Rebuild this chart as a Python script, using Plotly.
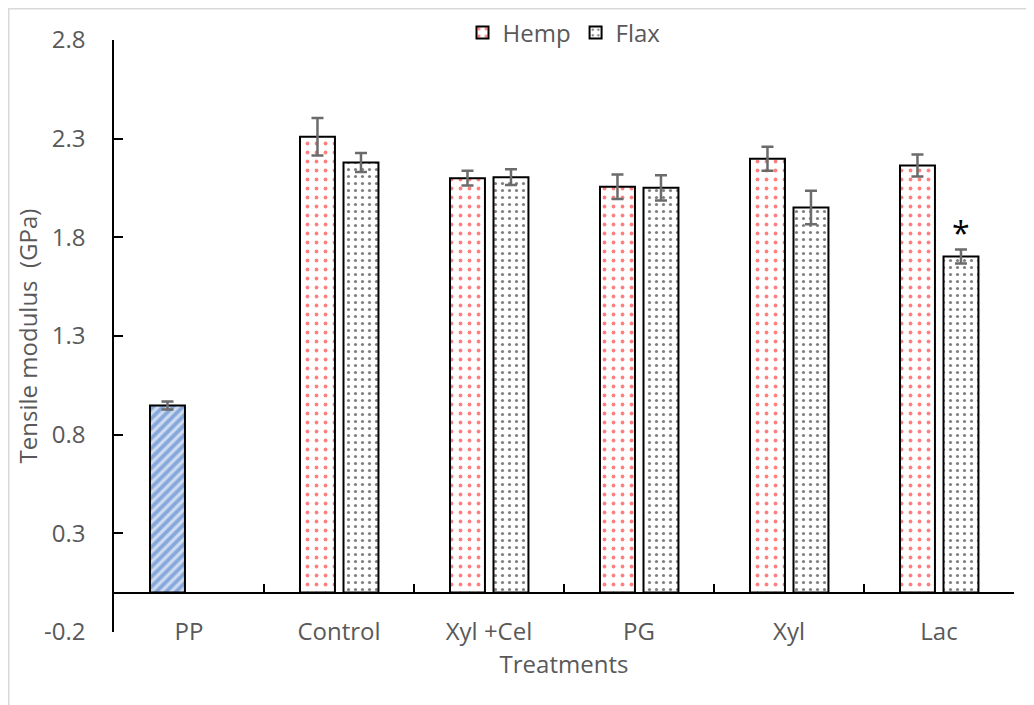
import plotly.graph_objects as go

categories = ["PP", "Control", "Xyl +Cel", "PG", "Xyl", "Lac"]
pp_value = [0.948]
pp_error = [0.02]
fiber_categories = ["Control", "Xyl +Cel", "PG", "Xyl", "Lac"]
hemp = [2.31, 2.10, 2.056, 2.198, 2.164]
hemp_error = [0.095, 0.037, 0.062, 0.061, 0.056]
flax = [2.179, 2.105, 2.051, 1.951, 1.703]
flax_error = [0.048, 0.040, 0.064, 0.085, 0.035]
y_ticks = [-0.2, 0.3, 0.8, 1.3, 1.8, 2.3, 2.8]

FONT = "Open Sans"
GRAY = "#595959"
PAGE = 8  # default body margin of the html page
W, H = 1034 - PAGE, 705 - PAGE
ML, MR, MT, MB = 114 - PAGE, 20, 40 - PAGE, 73
plot_w = W - ML - MR
plot_h = H - MT - MB
cat_px = plot_w / len(categories)

bar_w = 0.233
hemp_off = -0.26
flax_off = 0.03

err_style = dict(type="data", color="#6b6b6b", thickness=2.5, width=6, visible=True)
outline = dict(color="black", width=2)

fig = go.Figure()
fig.add_trace(go.Bar(
    x=["PP"], y=pp_value, width=bar_w, offset=hemp_off, showlegend=False,
    marker=dict(color="white", line=outline,
                pattern=dict(shape="/", fgcolor="#3f74c6", bgcolor="#cfdcf1", size=7, solidity=0.55)),
    error_y=dict(array=pp_error, **err_style),
))
fig.add_trace(go.Bar(
    x=fiber_categories, y=hemp, width=bar_w, offset=hemp_off, name="Hemp",
    marker=dict(color="white", line=outline,
                pattern=dict(shape=".", fgcolor="#ff0000", bgcolor="white", size=9, solidity=0.14)),
    error_y=dict(array=hemp_error, **err_style),
))
fig.add_trace(go.Bar(
    x=fiber_categories, y=flax, width=bar_w, offset=flax_off, name="Flax",
    marker=dict(color="white", line=outline,
                pattern=dict(shape=".", fgcolor="black", bgcolor="white", size=7, solidity=0.16)),
    error_y=dict(array=flax_error, **err_style),
))
# helper trace so the zero-level category axis (ticks at boundaries) is drawn
bounds = [i - 0.5 for i in range(len(categories) + 1)]
fig.add_trace(go.Scatter(x=[bounds[0], bounds[-1]], y=[0, 0], xaxis="x2", mode="lines",
                         line=dict(width=0), opacity=0, showlegend=False, hoverinfo="skip"))

ymin, ymax = y_ticks[0], y_ticks[-1]
fig.update_layout(
    width=W, height=H,
    margin=dict(l=ML, r=MR, t=MT, b=MB, autoexpand=False),
    paper_bgcolor="white", plot_bgcolor="white",
    barmode="overlay",
    font=dict(family=FONT, size=24, color=GRAY),
    showlegend=True,
    legend=dict(orientation="h", x=0.5, xanchor="center", y=1.012, yanchor="middle",
                font=dict(family=FONT, size=24, color=GRAY), bgcolor="rgba(0,0,0,0)",
                itemwidth=30, tracegroupgap=0),
    xaxis=dict(type="category", categoryorder="array", categoryarray=categories,
               range=[-0.5, len(categories) - 0.5], showline=False, ticks="",
               showgrid=False, zeroline=False, tickfont=dict(size=24, color=GRAY),
               ticklabelstandoff=-17,
               title=dict(text="Treatments", font=dict(size=24, color=GRAY), standoff=2)),
    xaxis2=dict(type="linear", overlaying="x", anchor="free",
                position=(0 - ymin) / (ymax - ymin), range=[bounds[0], bounds[-1]],
                tickmode="array", tickvals=bounds, ticks="inside", ticklen=9, tickwidth=1.5,
                tickcolor="black", showticklabels=False, showline=False, showgrid=False,
                zeroline=False),
    yaxis=dict(range=[ymin, ymax], tickmode="array", tickvals=y_ticks,
               ticktext=[f"{v:.1f}" for v in y_ticks],
               ticks="inside", ticklen=9, tickwidth=1.5, tickcolor="black",
               showline=True, linecolor="black", linewidth=1.5,
               zeroline=True, zerolinecolor="black", zerolinewidth=1.5,
               showgrid=False, tickfont=dict(size=24, color=GRAY), ticklabelstandoff=22,
               title=dict(text="Tensile modulus  (GPa)", font=dict(size=24, color=GRAY), standoff=0)),
    shapes=[dict(type="rect", xref="paper", yref="paper", layer="below",
                 x0=(0.75 - ML) / plot_w, x1=(W + 10 - ML) / plot_w,
                 y0=-(H + 10 - MT - plot_h) / plot_h, y1=(MT + plot_h - 0.75) / plot_h,
                 line=dict(color="#d9d9d9", width=1.5), fillcolor="rgba(0,0,0,0)")],
    annotations=[dict(x="Lac", y=flax[-1] + flax_error[-1], xref="x", yref="y",
                      text="*", showarrow=False, yanchor="bottom",
                      xshift=(flax_off + bar_w / 2) * cat_px, yshift=-6,
                      font=dict(family=FONT, size=32, color="black"))],
)

fig.write_html("out.html")
